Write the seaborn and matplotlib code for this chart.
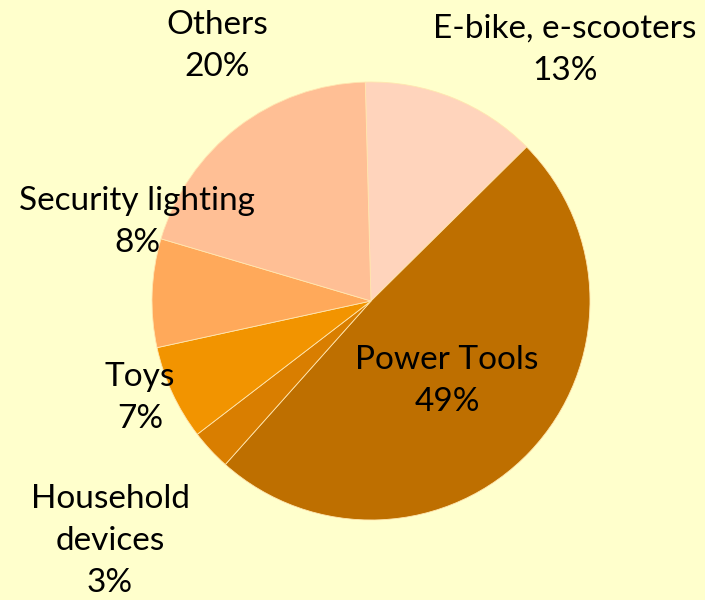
import matplotlib
matplotlib.use("Agg")
import matplotlib.pyplot as plt
import seaborn as sns

# market share by application
categories = ["E-bike, e-scooters", "Power Tools", "Household\ndevices", "Toys",
              "Security lighting", "Others"]
shares = [13, 49, 3, 7, 8, 20]
colors = ["#FFD4BC", "#BE6F00", "#D97E00", "#F29400", "#FFA95A", "#FFBF95"]

sns.set_theme(style="white")
plt.rcParams["font.family"] = ["Lato", "DejaVu Sans"]

bg = "#FFFFCC"
fig = plt.figure(figsize=(7.05, 6.0), dpi=100, facecolor=bg)

# pie centre at (371, 301) px from top-left, radius 219 px
cx, cy, r = 371, 301, 219
ax = fig.add_axes([(cx - r) / 705, (600 - cy - r) / 600, 2 * r / 705, 2 * r / 600])
ax.set_facecolor(bg)

ax.pie(shares, colors=colors, startangle=91.5, counterclock=False, radius=1,
       wedgeprops=dict(linewidth=0.6, edgecolor="#FFE6B0"))
ax.set_xlim(-1, 1)
ax.set_ylim(-1, 1)
ax.set_aspect("equal")
ax.axis("off")

# label centres in pixels (x, y from top)
label_px = [(565, 50), (447, 381), (110, 541), (140, 398), (137, 222), (217, 46)]

for cat, val, (px, py) in zip(categories, shares, label_px):
    ax.text((px - cx) / r, (cy - py) / r, f"{cat}\n{val}%", ha="center", va="center",
            fontsize=24, color="black", linespacing=1.5, clip_on=False)

fig.savefig("out.png", dpi=100, facecolor=bg)
